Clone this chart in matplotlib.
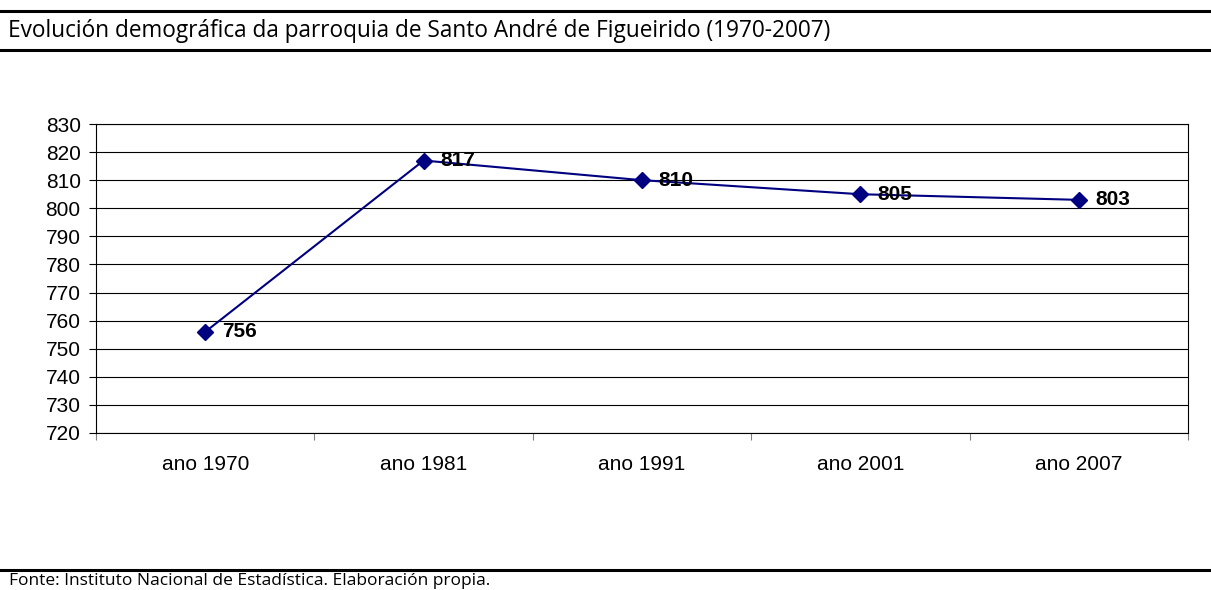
import matplotlib
matplotlib.use("Agg")
import matplotlib.pyplot as plt
from matplotlib.lines import Line2D

categories = ["ano 1970", "ano 1981", "ano 1991", "ano 2001", "ano 2007"]
population = [756, 817, 810, 805, 803]
y_ticks = list(range(720, 831, 10))
title_text = "Evolución demográfica da parroquia de Santo André de Figueirido (1970-2007)"
footer_text = "Fonte: Instituto Nacional de Estadística. Elaboración propia."

W, H = 1211, 590
fig = plt.figure(figsize=(W / 100, H / 100), dpi=100)
fig.patch.set_facecolor("white")

ax = fig.add_axes([96 / W, 1 - 433 / H, (1188 - 96) / W, (433 - 124) / H])
x = list(range(len(categories)))
ax.plot(x, population, color="#000080", lw=1.5, marker="D", ms=8,
        markerfacecolor="#000080", markeredgecolor="#000080", zorder=3)
for xi, v in zip(x, population):
    ax.annotate(str(v), (xi, v), xytext=(12, 0), textcoords="offset points",
                ha="left", va="center", fontsize=15, fontweight="bold",
                family="Liberation Sans", color="black", zorder=4)

ax.set_xlim(-0.5, len(categories) - 0.5)
ax.set_ylim(720, 830)
ax.set_yticks(y_ticks)
ax.set_yticklabels([str(t) for t in y_ticks], family="Liberation Sans", fontsize=15)
ax.yaxis.grid(True, color="black", lw=0.8)
ax.set_axisbelow(True)
ax.tick_params(axis="y", length=5, width=0.8, pad=6, color="black")

ax.set_xticks([i + 0.5 for i in range(-1, len(categories))])
ax.set_xticklabels([])
ax.set_xticks(x, minor=True)
ax.set_xticklabels(categories, minor=True, family="Liberation Sans", fontsize=15)
ax.tick_params(axis="x", which="major", length=5, width=0.8, color="#808080")
ax.tick_params(axis="x", which="minor", length=0, pad=16)
for s in ax.spines.values():
    s.set_color("black")
    s.set_linewidth(0.8)

# decorative rules
for yy in (11, 50, 570):
    fig.add_artist(Line2D([0, 1], [1 - yy / H, 1 - yy / H], transform=fig.transFigure,
                          color="black", lw=2.2))

renderer = fig.canvas.get_renderer()

def fit_text(xpx, ypx, s, target_w, va):
    t = fig.text(xpx / W, 1 - ypx / H, s, family="Open Sans", fontsize=12, va=va, ha="left")
    w = t.get_window_extent(renderer).width
    t.set_fontsize(12 * target_w / w)
    return t

fit_text(8, 31, title_text, 818, "center")
fit_text(9, 585, footer_text, 478, "baseline")

fig.savefig("out.png", dpi=100, facecolor="white")
